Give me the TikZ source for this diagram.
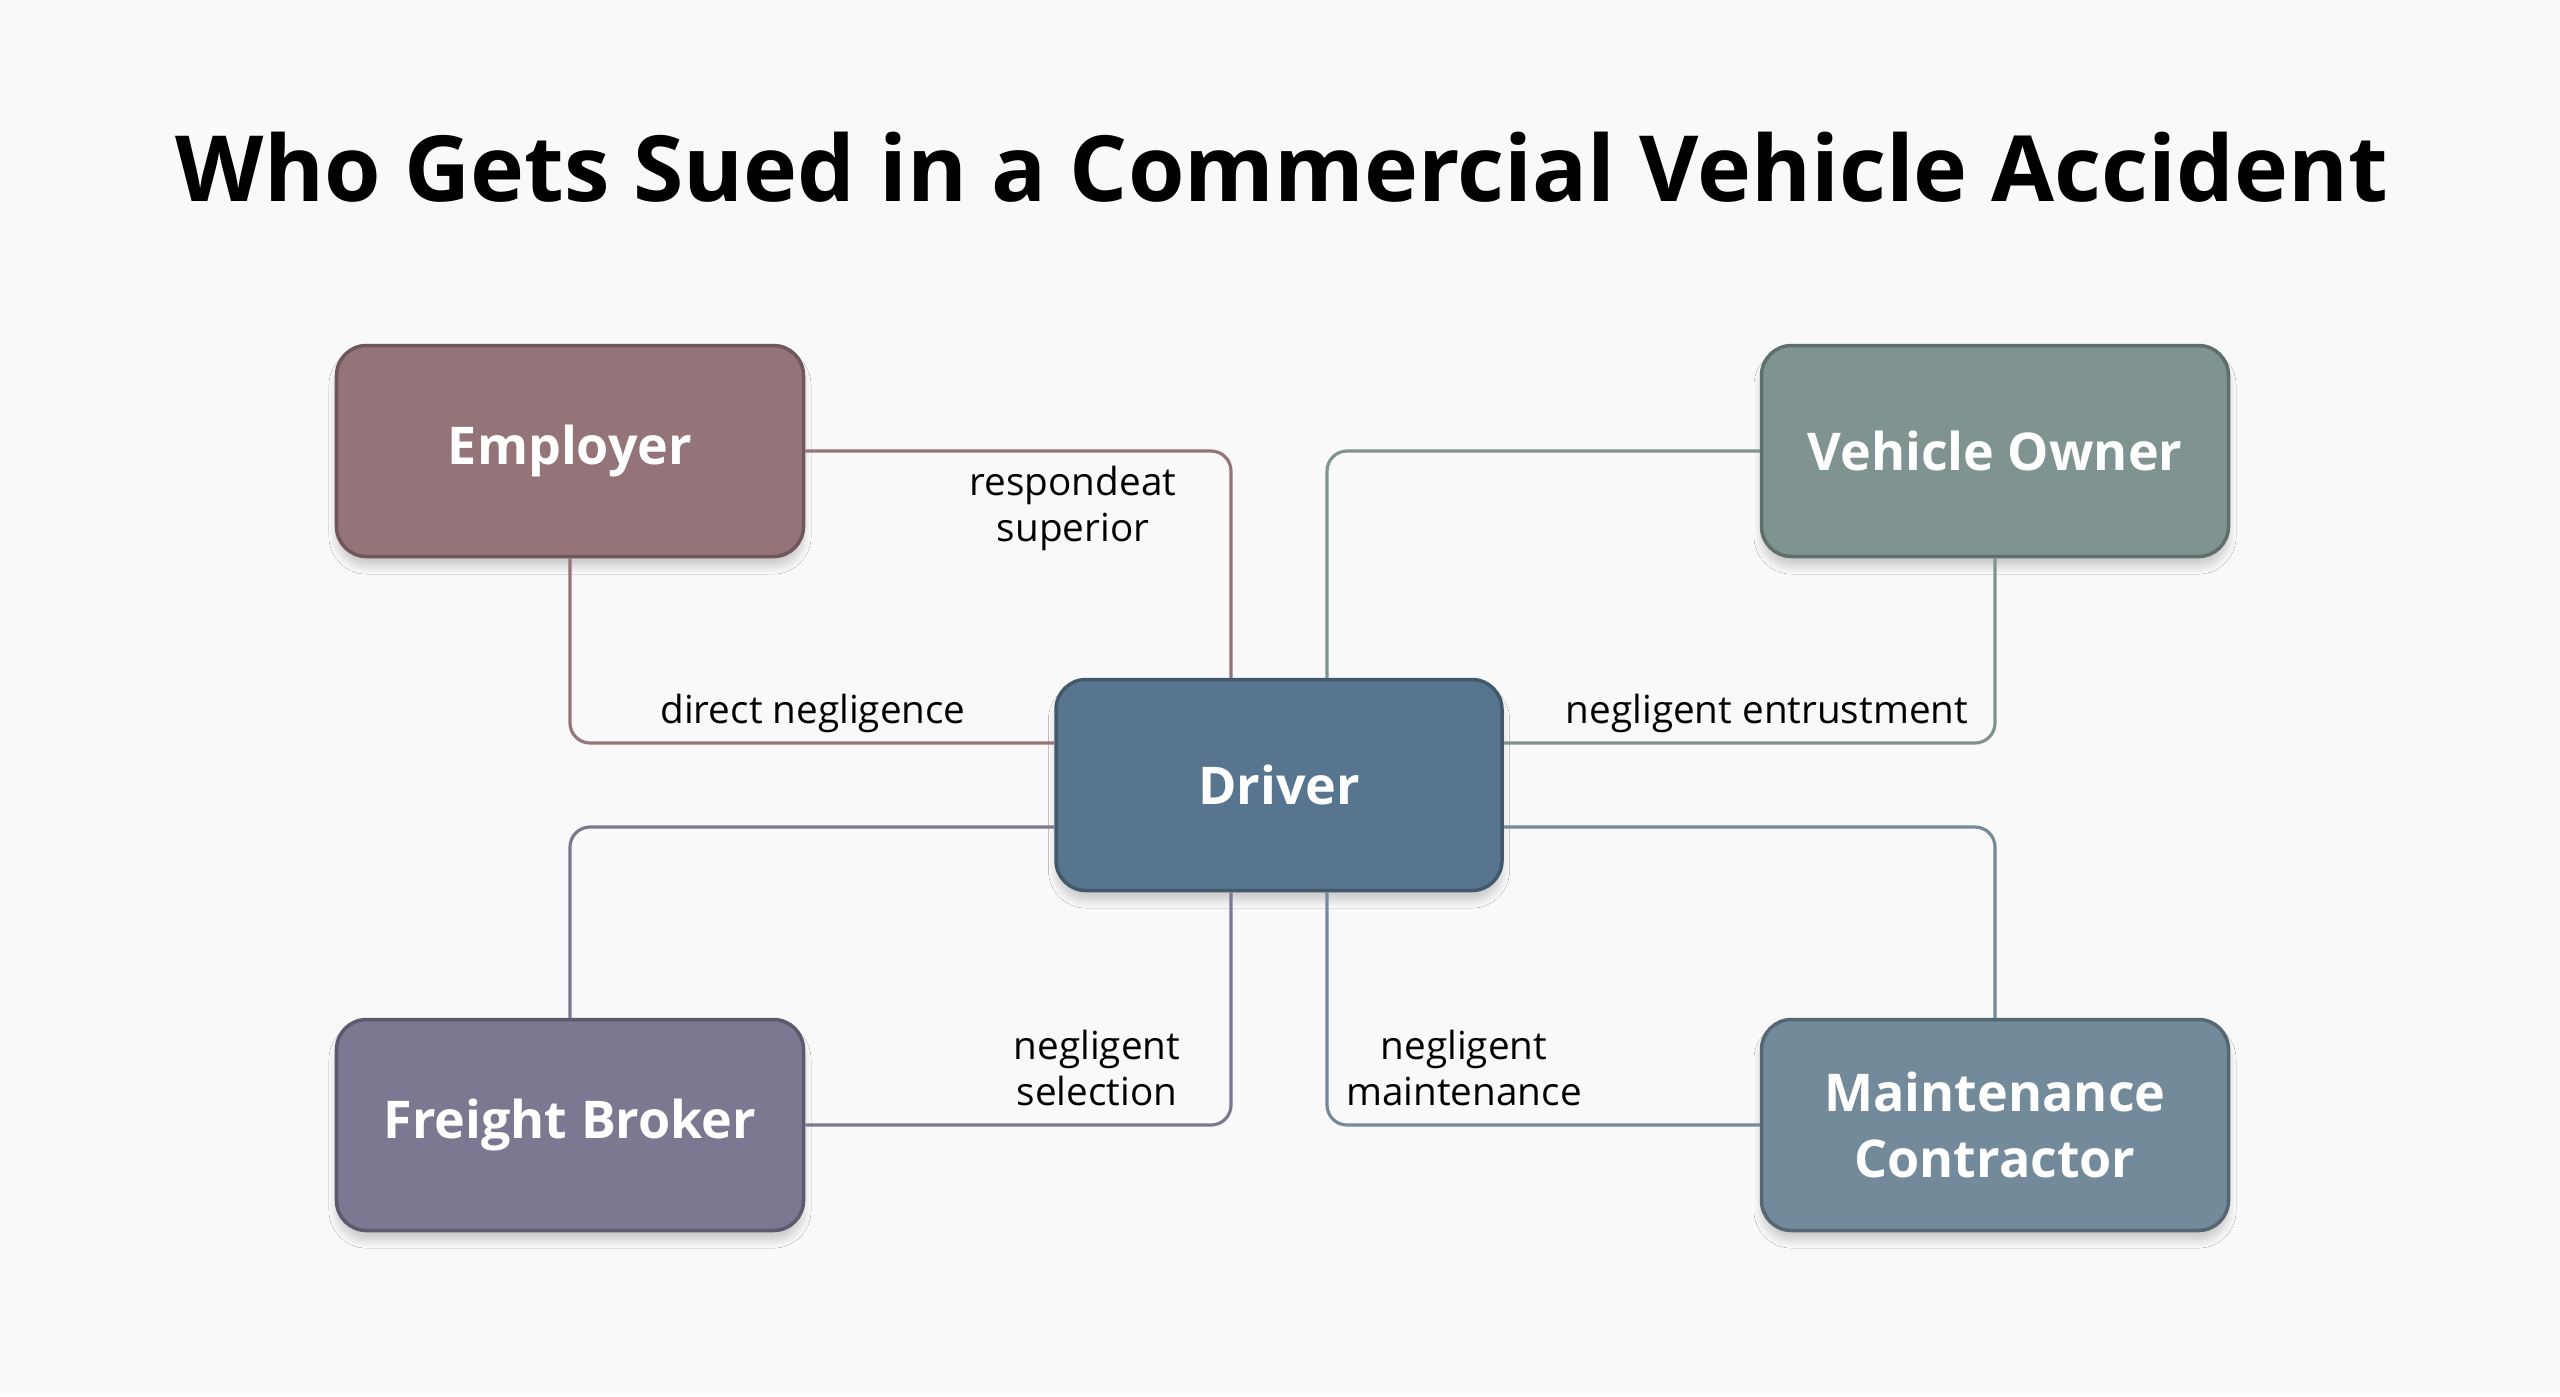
\documentclass[tikz,border=0pt]{standalone}
\usepackage{fontspec}
\setmainfont{Open Sans}
\usetikzlibrary{calc,shadows.blur}
\definecolor{bgc}{HTML}{F9F9F9}
\definecolor{employerc}{HTML}{957479}
\definecolor{ownerc}{HTML}{7F9490}
\definecolor{driverc}{HTML}{58758F}
\definecolor{brokerc}{HTML}{7E7791}
\definecolor{contractorc}{HTML}{738A9A}
\tikzstyle{party}=[rectangle, rounded corners=0.3cm, minimum width=4.67cm, minimum height=2.11cm, inner sep=0pt, line width=1pt, text=white, align=center, font=\fontsize{14.8}{19}\selectfont\bfseries, blur shadow={shadow xshift=0cm, shadow yshift=-0.1cm, shadow blur steps=8, shadow opacity=18}]
\tikzstyle{link}=[line width=0.9pt, rounded corners=0.2cm]
\tikzstyle{annot}=[align=center, font=\fontsize{11}{13.1}\selectfont]
\newcommand{\party}[4]
{
  \node[party, fill=#2, draw=#2!75!black] (#1) at #3 {#4};
}

\begin{document}
\begin{tikzpicture}
	\fill[bgc] (0,0) rectangle (25.6,-13.96);
	\node[anchor=base, font=\fontsize{26}{30}\selectfont\bfseries] (title) at (12.82,-2.01) {Who Gets Sued in a Commercial Vehicle Accident};

	\party{employer}{employerc}{(5.70,-4.51)}{Employer}
	\party{owner}{ownerc}{(19.95,-4.51)}{Vehicle Owner}
	\node[party, fill=driverc, draw=driverc!75!black, minimum width=4.46cm] (driver) at (12.79,-7.85) {Driver};
	\party{broker}{brokerc}{(5.70,-11.25)}{Freight Broker}
	\party{contractor}{contractorc}{(19.95,-11.25)}{Maintenance\\Contractor}

	\draw[link, draw=employerc] (employer.east) -| ([xshift=-0.48cm]driver.north);
	\draw[link, draw=employerc] (employer.south) |- ([yshift=0.42cm]driver.west);
	\draw[link, draw=ownerc] (owner.west) -| ([xshift=0.48cm]driver.north);
	\draw[link, draw=ownerc] (owner.south) |- ([yshift=0.42cm]driver.east);
	\draw[link, draw=brokerc] ([yshift=-0.42cm]driver.west) -| (broker.north);
	\draw[link, draw=brokerc] ([xshift=-0.48cm]driver.south) |- (broker.east);
	\draw[link, draw=contractorc] ([yshift=-0.42cm]driver.east) -| (contractor.north);
	\draw[link, draw=contractorc] ([xshift=0.48cm]driver.south) |- (contractor.west);

	\node[annot] (respondeat) at (10.73,-5.08) {respondeat\\superior};
	\node[annot] (direct) at (8.13,-7.13) {direct negligence};
	\node[annot] (entrust) at (17.67,-7.13) {negligent entrustment};
	\node[annot] (selection) at (10.97,-10.68) {negligent\\selection};
	\node[annot] (maintain) at (14.64,-10.68) {negligent\\maintenance};
\end{tikzpicture}
\end{document}
